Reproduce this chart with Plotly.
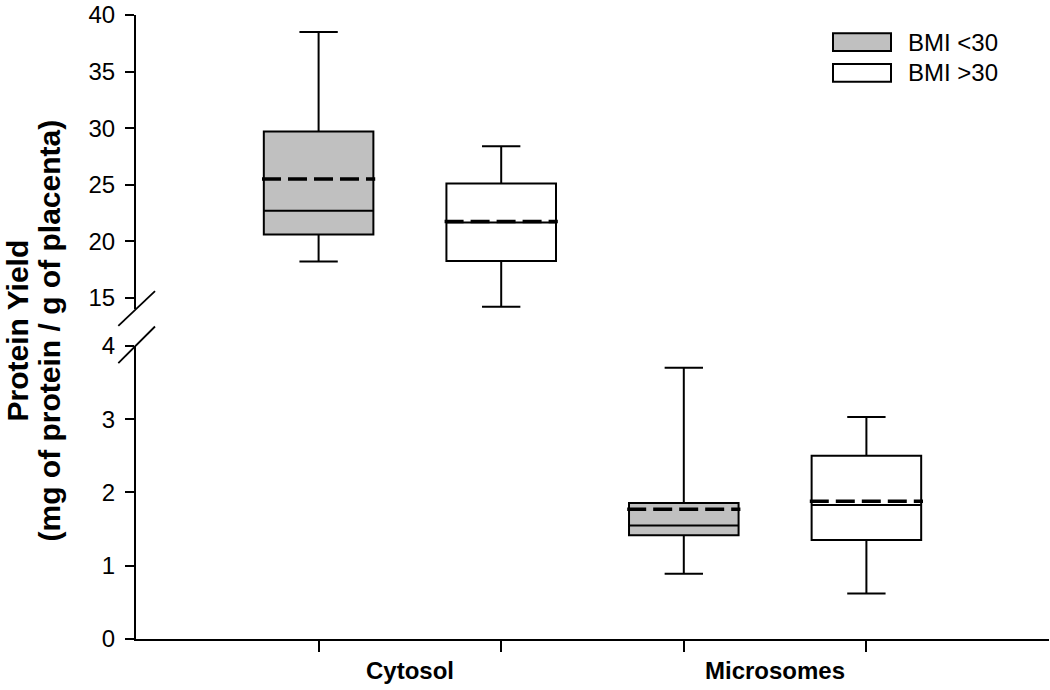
import plotly.graph_objects as go

# ---- data ----
categories = ["Cytosol", "Microsomes"]
series = ["BMI <30", "BMI >30"]
fills = ["#c0c0c0", "#ffffff"]

# per series: values for [Cytosol, Microsomes]
lower_whisker = {"BMI <30": [18.2, 0.89], "BMI >30": [14.2, 0.62]}
q1_vals       = {"BMI <30": [20.6, 1.415], "BMI >30": [18.25, 1.35]}
median_vals   = {"BMI <30": [22.7, 1.55], "BMI >30": [21.65, 1.83]}
q3_vals       = {"BMI <30": [29.7, 1.855], "BMI >30": [25.1, 2.50]}
upper_whisker = {"BMI <30": [38.5, 3.70], "BMI >30": [28.4, 3.03]}
mean_vals     = {"BMI <30": [25.5, 1.77], "BMI >30": [21.75, 1.88]}

y_upper_ticks = [15, 20, 25, 30, 35, 40]
y_lower_ticks = [0, 1, 2, 3, 4]
y_title_lines = ["Protein Yield", "(mg of protein / g of placenta)"]

# ---- layout geometry ----
W, H = 1050, 690
L, R, T, B = 136, 1, 10, 51
PW, PH = W - L - R, H - T - B

def px(xp):
    return (xp - L) / PW

def py(yp):
    return (H - B - yp) / PH

FONT = "Liberation Sans, Arial, sans-serif"

fig = go.Figure()

for i, cat in enumerate(categories):
    # Cytosol -> upper panel, Microsomes -> lower panel
    xa, ya = ("x2", "y2") if i == 0 else ("x", "y")
    for j, s in enumerate(series):
        pos = 2 * i + 1 + j
        fig.add_trace(go.Box(
            x=[pos], q1=[q1_vals[s][i]], median=[median_vals[s][i]], q3=[q3_vals[s][i]],
            lowerfence=[lower_whisker[s][i]], upperfence=[upper_whisker[s][i]],
            width=0.6, whiskerwidth=0.35, fillcolor=fills[j],
            line=dict(color="black", width=2), boxpoints=False,
            name=s, showlegend=False, xaxis=xa, yaxis=ya, hoverinfo="skip"))
        fig.add_trace(go.Scatter(
            x=[pos - 0.31, pos + 0.31], y=[mean_vals[s][i]] * 2, mode="lines",
            line=dict(color="black", width=3.5, dash="19px,7px"),
            showlegend=False, xaxis=xa, yaxis=ya, hoverinfo="skip"))

split_top = py(306)
split_bot = py(343.5)

axis_common = dict(showline=True, linecolor="black", linewidth=2, showgrid=False,
                   zeroline=False, ticks="outside", ticklen=9, tickwidth=2,
                   ticklabelstandoff=5,
                   tickcolor="black", tickfont=dict(family=FONT, size=24, color="black"))

fig.update_layout(
    width=W, height=H, margin=dict(l=L, r=R, t=T, b=B),
    plot_bgcolor="white", paper_bgcolor="white", showlegend=False,
    xaxis=dict(range=[0, 5], domain=[0, 1], anchor="y", showline=True, linecolor="black",
               linewidth=2, showgrid=False, zeroline=False, ticks="outside", ticklen=11,
               tickwidth=2, tickcolor="black", tickvals=[1, 2, 3, 4], ticktext=["", "", "", ""]),
    xaxis2=dict(range=[0, 5], domain=[0, 1], anchor="y2", matches="x", visible=False),
    yaxis=dict(range=[0, 4], domain=[0, split_bot], anchor="x", tickvals=y_lower_ticks,
               **axis_common),
    yaxis2=dict(range=[14.04, 40], domain=[split_top, 1], anchor="x2", tickvals=y_upper_ticks,
                **axis_common),
)

# axis break marks
for (x0, y0, x1, y1) in [(118.3, 323.3, 155, 288.3), (118.3, 361, 155, 324)]:
    fig.add_shape(type="line", xref="paper", yref="paper",
                  x0=px(x0), y0=py(y0), x1=px(x1), y1=py(y1),
                  line=dict(color="black", width=1.8))

# category labels
for i, cat in enumerate(categories):
    fig.add_annotation(x=2 * i + 1.5, xref="x", y=0, yref="paper", yanchor="top",
                       yshift=-16, text="<b>%s</b>" % cat, showarrow=False,
                       font=dict(family=FONT, size=24, color="black"))

# y-axis title (two lines)
for k, line_txt in enumerate(y_title_lines):
    fig.add_annotation(x=px(17 + 32 * k), xref="paper", y=py(328), yref="paper",
                       xanchor="center", yanchor="middle", textangle=-90, showarrow=False,
                       text="<b>%s</b>" % line_txt,
                       font=dict(family=FONT, size=30, color="black"))

# legend
for j, s in enumerate(series):
    top = 28.3 + j * 31
    fig.add_shape(type="rect", xref="paper", yref="paper",
                  x0=px(833), x1=px(891), y0=py(top + 18), y1=py(top),
                  fillcolor=fills[j], line=dict(color="black", width=2))
    fig.add_annotation(x=px(906), xref="paper", y=py(top + 9), yref="paper",
                       xanchor="left", yanchor="middle", text=s, showarrow=False,
                       font=dict(family=FONT, size=24, color="black"))

fig.write_html("out.html", config={"displayModeBar": False},
               post_script="document.body.style.margin='0';document.body.style.overflow='hidden';")
